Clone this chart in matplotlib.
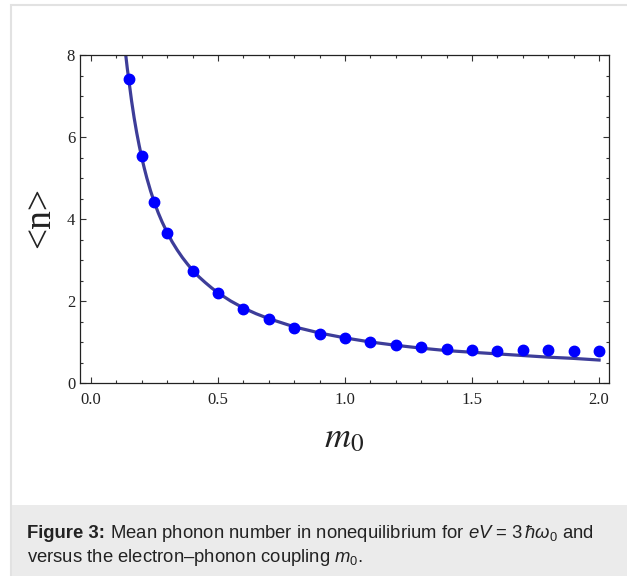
import matplotlib
matplotlib.use("Agg")
import matplotlib.pyplot as plt
from matplotlib.patches import Rectangle
from matplotlib.ticker import MultipleLocator

# numerical points (dots)
m_pts = [0.15, 0.2, 0.25, 0.3, 0.4, 0.5, 0.6, 0.7, 0.8, 0.9, 1.0,
         1.1, 1.2, 1.3, 1.4, 1.5, 1.6, 1.7, 1.8, 1.9, 2.0]
n_pts = [7.41, 5.54, 4.42, 3.67, 2.74, 2.19, 1.80, 1.55, 1.35, 1.20, 1.09,
         0.99, 0.93, 0.87, 0.82, 0.80, 0.79, 0.80, 0.80, 0.79, 0.78]

# analytic curve
m_line = [0.137, 0.143, 0.15, 0.16, 0.17, 0.18, 0.19, 0.2, 0.21, 0.22, 0.235,
          0.25, 0.265, 0.28, 0.3, 0.32, 0.34, 0.36, 0.38, 0.4, 0.425, 0.45,
          0.475, 0.5, 0.55, 0.6, 0.65, 0.7, 0.75, 0.8, 0.9, 1.0, 1.1, 1.2,
          1.3, 1.4, 1.5, 1.6, 1.7, 1.8, 1.9, 2.0]
n_line = [8.0, 7.68, 7.35, 6.88, 6.47, 6.11, 5.79, 5.50, 5.24, 5.00, 4.68,
          4.40, 4.15, 3.93, 3.67, 3.44, 3.24, 3.06, 2.90, 2.75, 2.59, 2.45,
          2.32, 2.20, 2.00, 1.83, 1.69, 1.57, 1.47, 1.37, 1.22, 1.10, 1.00, 0.92,
          0.85, 0.79, 0.75, 0.71, 0.67, 0.63, 0.60, 0.56]

fig_label = "Figure 3:"
caption1 = r" Mean phonon number in nonequilibrium for $eV$ = 3$\,\hbar\omega_0$ and"
caption2 = r"versus the electron–phonon coupling $m_0$."

plt.rcParams['mathtext.fontset'] = 'custom'
plt.rcParams['mathtext.rm'] = 'Liberation Sans'
plt.rcParams['mathtext.it'] = 'Liberation Sans:italic'
plt.rcParams['mathtext.bf'] = 'Liberation Sans:bold'

W, H = 627, 576
fig = plt.figure(figsize=(W/100, H/100), dpi=100)

# outer frame + caption box
fig.patches.append(Rectangle((11/W, -0.02), 1, 1 - 5/H + 0.02, transform=fig.transFigure,
                             fill=False, edgecolor='#e2e2e2', lw=1.5))
fig.patches.append(Rectangle((12/W, 0), 1, 71/H, transform=fig.transFigure,
                             facecolor='#ebebeb', edgecolor='none'))

ax = fig.add_axes([80/W, 1 - 383/H, 529/W, 328/H])
ax.plot(m_line, n_line, color='#3d3d99', lw=2.3, zorder=2)
ax.plot(m_pts, n_pts, 'o', color='#0000ff', ms=7.5, zorder=3)

ax.set_xlim(-0.043, 2.039)
ax.set_ylim(0, 8)
ax.xaxis.set_major_locator(MultipleLocator(0.5))
ax.xaxis.set_minor_locator(MultipleLocator(0.1))
ax.yaxis.set_major_locator(MultipleLocator(2))
ax.yaxis.set_minor_locator(MultipleLocator(0.5))
ax.xaxis.set_major_formatter(plt.FuncFormatter(lambda v, p: '%.1f' % v))
ax.yaxis.set_major_formatter(plt.FuncFormatter(lambda v, p: '%d' % v))

ax.tick_params(which='both', direction='in', top=True, right=True,
               color='#333333', width=0.8)
ax.tick_params(which='major', length=4.3, labelsize=12,
               labelcolor='#222222', labelfontfamily='Liberation Serif')
ax.tick_params(which='minor', length=2.5)
ax.tick_params(axis='x', which='major', pad=6.5)
ax.tick_params(axis='y', which='major', pad=3.5)
for s in ax.spines.values():
    s.set_color('#222222')
    s.set_linewidth(0.9)

fig.text(40/W, 1 - 217/H, '<n>', rotation=90, ha='center', va='center',
         fontsize=27, family='Liberation Serif', color='#222222')
fig.text(344.5/W, 1 - 447/H, r'$m_0$', ha='center', va='baseline',
         fontsize=26, family='Liberation Serif', math_fontfamily='stix', color='#222222')

# caption: bold label then the rest right after it
t0 = fig.text(27/W, 1 - 538/H, fig_label, fontsize=13.3, family='Liberation Sans',
              weight='bold', va='baseline', color='#222222')
fig.canvas.draw()
bb = t0.get_window_extent()
fig.text(bb.x1/W, 1 - 538/H, caption1, fontsize=13.3, family='Liberation Sans',
         va='baseline', color='#222222')
fig.text(27/W, 1 - 562/H, caption2, fontsize=13.3, family='Liberation Sans',
         va='baseline', color='#222222')

fig.savefig('out.png', dpi=100)
